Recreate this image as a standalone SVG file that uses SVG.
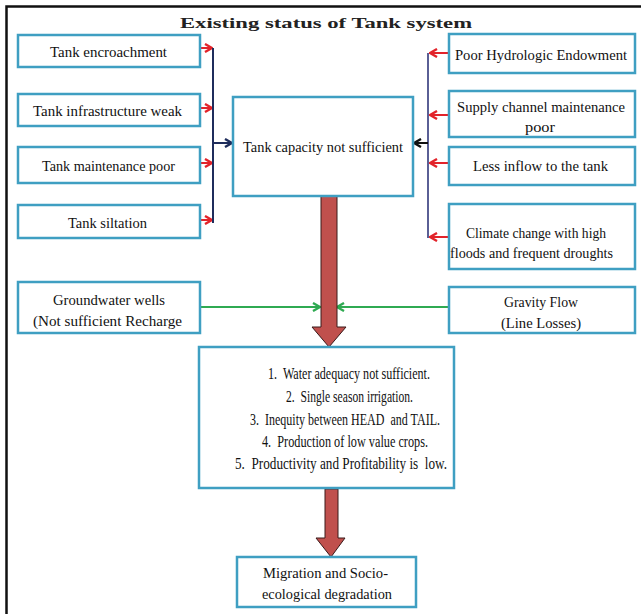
<svg xmlns="http://www.w3.org/2000/svg" width="642" height="614" viewBox="0 0 642 614">
<defs>
<style>
.box{fill:#ffffff;stroke:#3f9fc2;stroke-width:2.5}
.t{font-family:"Liberation Serif","Times New Roman",serif;font-size:15.5px;fill:#111;white-space:pre}
.r{font-size:16.5px}
.title{font-family:"Liberation Serif","Times New Roman",serif;font-size:15.5px;font-weight:bold;fill:#222}
.red{stroke:#e2232a;stroke-width:2;fill:none}
.navy{stroke:#1f2d5c;stroke-width:2;fill:none}
.slate{stroke:#5a5f95;stroke-width:2;fill:none}
.blk{stroke:#111;stroke-width:2;fill:none}
.grn{stroke:#2faa52;stroke-width:2;fill:none}
.fat{fill:#c0504d;stroke:#3a1a1a;stroke-width:1}
</style>
<marker id="mr" viewBox="0 0 10 10" refX="9" refY="5" markerWidth="10" markerHeight="10" markerUnits="userSpaceOnUse" orient="auto"><path d="M2,1 L9,5 L2,9" fill="none" stroke="#e2232a" stroke-width="2.4"/></marker>
<marker id="mn" viewBox="0 0 10 10" refX="9" refY="5" markerWidth="10" markerHeight="10" markerUnits="userSpaceOnUse" orient="auto"><path d="M2,1 L9,5 L2,9" fill="none" stroke="#1f2d5c" stroke-width="2.4"/></marker>
<marker id="mk" viewBox="0 0 10 10" refX="9" refY="5" markerWidth="10" markerHeight="10" markerUnits="userSpaceOnUse" orient="auto"><path d="M2,1 L9,5 L2,9" fill="none" stroke="#111" stroke-width="2.4"/></marker>
<marker id="mg" viewBox="0 0 10 10" refX="9" refY="5" markerWidth="10" markerHeight="10" markerUnits="userSpaceOnUse" orient="auto"><path d="M2,1 L9,5 L2,9" fill="none" stroke="#2faa52" stroke-width="2.4"/></marker>
</defs>
<rect width="642" height="614" fill="#ffffff"/>
<path d="M6.5,614 L6.5,6.5 L641,6.5" fill="none" stroke="#111" stroke-width="2.5"/>
<text class="title" x="180" y="28" textLength="292" lengthAdjust="spacingAndGlyphs">Existing status of Tank system</text>

<g id="connectors">
<line class="red" x1="200" y1="48" x2="212" y2="48" marker-end="url(#mr)"/>
<line class="red" x1="200" y1="108" x2="212" y2="108" marker-end="url(#mr)"/>
<line class="red" x1="200" y1="163" x2="212" y2="163" marker-end="url(#mr)"/>
<line class="red" x1="200" y1="220" x2="212" y2="220" marker-end="url(#mr)"/>
<line class="navy" x1="213" y1="48" x2="213" y2="223"/>
<line class="navy" x1="213" y1="143" x2="232" y2="143" marker-end="url(#mn)"/>
<line class="red" x1="449" y1="53" x2="430" y2="53" marker-end="url(#mr)"/>
<line class="red" x1="449" y1="115" x2="430" y2="115" marker-end="url(#mr)"/>
<line class="red" x1="449" y1="163" x2="430" y2="163" marker-end="url(#mr)"/>
<line class="red" x1="449" y1="237" x2="430" y2="237" marker-end="url(#mr)"/>
<line class="slate" x1="428" y1="53" x2="428" y2="238"/>
<line class="blk" x1="428" y1="143" x2="414" y2="143" marker-end="url(#mk)"/>
<line class="grn" x1="200" y1="307" x2="320" y2="307" marker-end="url(#mg)"/>
<line class="grn" x1="449" y1="307" x2="337" y2="307" marker-end="url(#mg)"/>
<path class="fat" d="M321,196 L337,196 L337,327 L346,327 L329,347 L312,327 L321,327 Z"/>
<path class="fat" d="M325,489 L338,489 L338,538 L345,538 L331,557 L316,538 L325,538 Z"/>
</g>

<g id="tank-encroachment"><rect class="box" x="18" y="35" width="182" height="32"/><text class="t" x="50" y="57" textLength="117" lengthAdjust="spacingAndGlyphs">Tank encroachment</text></g>
<g id="tank-infrastructure"><rect class="box" x="18" y="94" width="182" height="32"/><text class="t" x="33" y="116" textLength="149" lengthAdjust="spacingAndGlyphs">Tank infrastructure weak</text></g>
<g id="tank-maintenance"><rect class="box" x="18" y="147" width="182" height="36"/><text class="t" x="42" y="171" textLength="133" lengthAdjust="spacingAndGlyphs">Tank maintenance poor</text></g>
<g id="tank-siltation"><rect class="box" x="18" y="205" width="182" height="33"/><text class="t" x="68" y="228" textLength="79" lengthAdjust="spacingAndGlyphs">Tank siltation</text></g>

<g id="tank-capacity"><rect class="box" x="233" y="97" width="180" height="99"/><text class="t" x="243" y="152" textLength="160" lengthAdjust="spacingAndGlyphs">Tank capacity not sufficient</text></g>

<g id="poor-hydrologic"><rect class="box" x="449" y="34" width="186" height="39"/><text class="t" x="455" y="60" textLength="172" lengthAdjust="spacingAndGlyphs">Poor Hydrologic Endowment</text></g>
<g id="supply-channel"><rect class="box" x="449" y="91" width="186" height="46"/><text class="t" x="457" y="112" textLength="168" lengthAdjust="spacingAndGlyphs">Supply channel maintenance</text><text class="t" x="525" y="132" textLength="30" lengthAdjust="spacingAndGlyphs">poor</text></g>
<g id="less-inflow"><rect class="box" x="449" y="147" width="186" height="38"/><text class="t" x="473" y="171" textLength="135" lengthAdjust="spacingAndGlyphs">Less inflow to the tank</text></g>
<g id="climate-change"><rect class="box" x="449" y="204" width="186" height="65"/><text class="t" x="466" y="238" textLength="140" lengthAdjust="spacingAndGlyphs">Climate change with high</text><text class="t" x="450" y="258" textLength="163" lengthAdjust="spacingAndGlyphs">floods and frequent droughts</text></g>

<g id="groundwater"><rect class="box" x="18" y="282" width="182" height="51"/><text class="t" x="53" y="305" textLength="112" lengthAdjust="spacingAndGlyphs">Groundwater wells</text><text class="t" x="33" y="326" textLength="149" lengthAdjust="spacingAndGlyphs">(Not sufficient Recharge</text></g>
<g id="gravity-flow"><rect class="box" x="449" y="287" width="186" height="46"/><text class="t" x="504" y="307" textLength="74" lengthAdjust="spacingAndGlyphs">Gravity Flow</text><text class="t" x="501" y="328" textLength="80" lengthAdjust="spacingAndGlyphs">(Line Losses)</text></g>

<g id="results"><rect class="box" x="199" y="347" width="255" height="141"/>
<text class="t r" x="268" y="379" textLength="162" lengthAdjust="spacingAndGlyphs">1.  Water adequacy not sufficient.</text>
<text class="t r" x="286" y="402" textLength="127" lengthAdjust="spacingAndGlyphs">2.  Single season irrigation.</text>
<text class="t r" x="250" y="425" textLength="190" lengthAdjust="spacingAndGlyphs">3.  Inequity between HEAD  and TAIL.</text>
<text class="t r" x="262" y="447" textLength="166" lengthAdjust="spacingAndGlyphs">4.  Production of low value crops.</text>
<text class="t r" x="235" y="469" textLength="212" lengthAdjust="spacingAndGlyphs">5.  Productivity and Profitability is  low.</text>
</g>

<g id="migration"><rect class="box" x="237" y="557" width="179" height="50"/><text class="t" x="263" y="578" textLength="125" lengthAdjust="spacingAndGlyphs">Migration and Socio-</text><text class="t" x="262" y="599" textLength="130" lengthAdjust="spacingAndGlyphs">ecological degradation</text></g>
</svg>
